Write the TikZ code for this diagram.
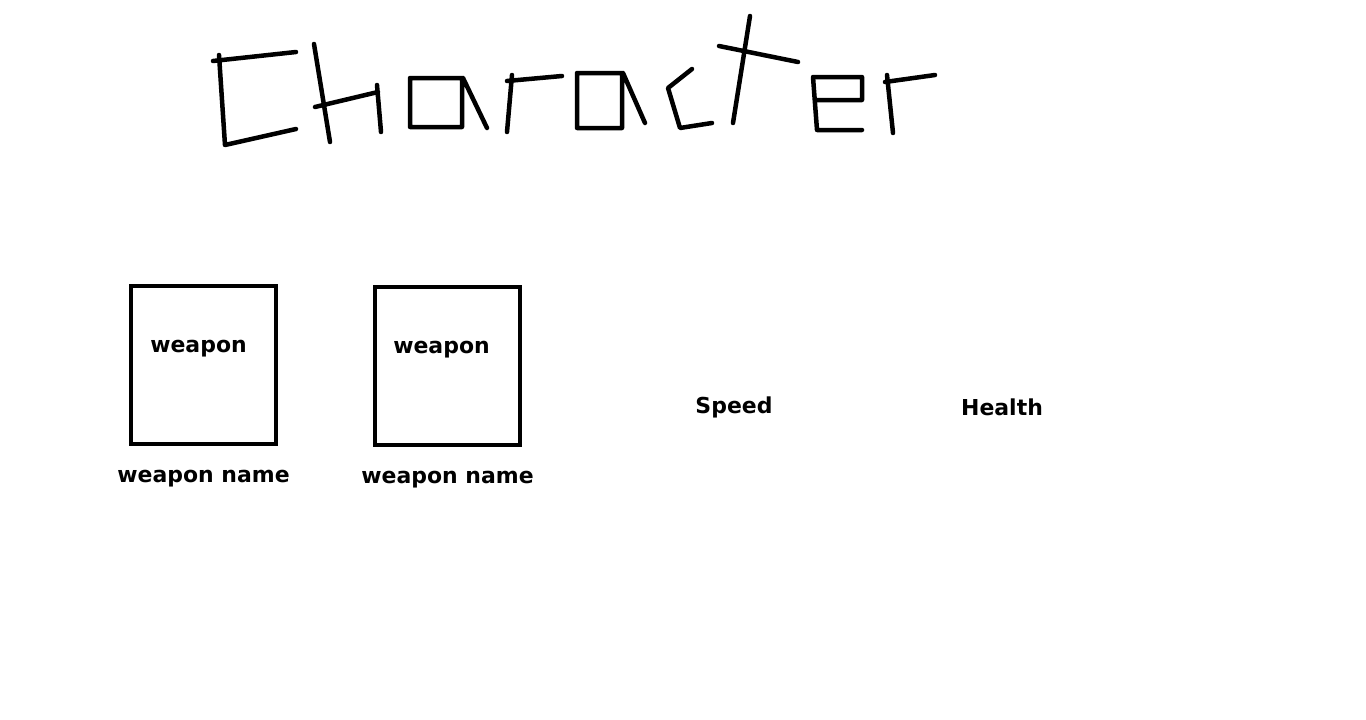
\documentclass[tikz,border=0pt]{standalone}
\usepackage{fontspec}
\newfontfamily\uifont{DejaVu Sans}
\usetikzlibrary{positioning}
\definecolor{CInk}{HTML}{000000}

\begin{document}
\begin{tikzpicture}[x=0.02cm, y=-0.02cm,
    pen/.style={CInk, line width=0.09cm, line cap=round, line join=round},
    slot/.style={draw=CInk, line width=0.08cm, minimum width=2.9cm, minimum height=3.16cm, inner sep=0pt},
    lbl/.style={text=CInk, font=\uifont\bfseries\fontsize{12.5}{14}\selectfont, inner sep=0pt}]

    \useasboundingbox[fill=white] (0,0) rectangle (1366,720);

    % Title (hand drawn strokes)
    \draw[pen] (213,61) -- (296,52) (219,55) -- (225,145) -- (296,129); % C
    \draw[pen] (314,44) -- (330,142) (315,107) -- (378,92) (377,85) -- (381,132); % h
    \draw[pen] (410,78) rectangle (462,127) (463,78) -- (487,128); % a
    \draw[pen] (512,75) -- (507,132) (507,81) -- (562,76); % r
    \draw[pen] (577,73) rectangle (622,128) (623,73) -- (645,123); % a
    \draw[pen] (692,69) -- (668,88) -- (680,128) -- (712,123); % c
    \draw[pen] (750,16) -- (733,123) (719,46) -- (798,62); % t
    \draw[pen] (862,100) -- (862,77) -- (813,77) -- (817,130) -- (862,130) (815,100) -- (862,100); % e
    \draw[pen] (887,75) -- (893,133) (885,82) -- (935,75); % r

    % Weapon 1
    \node[slot] (slotA) at (203.5,365) {};
    \node[lbl, below=1.12cm of slotA.north, xshift=-0.1cm] (wpnA) {weapon};
    \node[lbl, below=0.48cm of slotA.south] (nameA) {weapon name};

    % Weapon 2
    \node[slot] (slotB) at (447.5,366) {};
    \node[lbl, below=1.12cm of slotB.north, xshift=-0.12cm] (wpnB) {weapon};
    \node[lbl, below=0.48cm of slotB.south] (nameB) {weapon name};

    % Stats
    \node[lbl] (speed) at (734,407) {Speed};
    \node[lbl] (health) at (1002,407) {Health};

\end{tikzpicture}
\end{document}
